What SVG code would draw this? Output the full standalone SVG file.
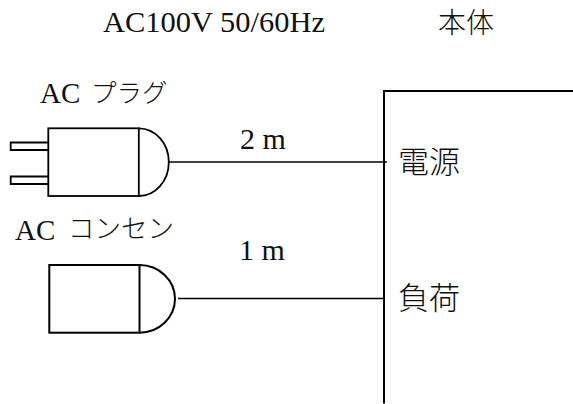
<svg xmlns="http://www.w3.org/2000/svg" width="573" height="404" viewBox="0 0 573 404">
<style>
.s{fill:none;stroke:#000;stroke-width:1.8}
.b{fill:none;stroke:#000;stroke-width:2}
.w{fill:none;stroke:#000;stroke-width:1.4}
text{fill:#111;font-family:"Liberation Serif","Noto Sans CJK JP",serif;font-size:30px}
.j{font-family:"Noto Sans CJK JP","Liberation Serif",serif;font-weight:300}
.k{font-size:26.500px}
.h{font-size:28px}
.m{font-size:31px}
</style>
<rect width="573" height="404" fill="#fff"/>
<g id="labels">
<text x="103" y="32" textLength="222" lengthAdjust="spacingAndGlyphs">AC100V 50/60Hz</text>
<text x="438" y="33" class="j h">本体</text>
<text x="40" y="103" style="font-size:29px">AC</text>
<text x="91" y="102" class="j k" style="font-size:25.500px">プラグ</text>
<text x="15" y="240" style="font-size:29px">AC</text>
<text x="68" y="238" class="j k">コンセン</text>
<text x="240" y="149">2 m</text>
<text x="239" y="260">1 m</text>
</g>
<g id="connectors">
<path class="w" d="M169 162H387"/>
<path class="w" d="M178 298.500H385"/>
</g>
<g id="plug">
<path class="s" d="M48 142.500H10.700V150H48M48 176.500H10.700V184H48"/>
<rect class="s" x="48.300" y="128.300" width="90.500" height="67.700"/>
<path class="s" d="M138.800 128.300A30 33.850 0 0 1 138.800 196"/>
</g>
<g id="socket">
<rect class="b" x="49.300" y="265" width="90.200" height="67.700"/>
<path class="b" d="M139.500 265A35.500 33.850 0 0 1 139.500 332.700"/>
</g>
<g id="body">
<path class="b" d="M384 403.500V91H573"/>
<text x="398" y="173" class="j m">電源</text>
<text x="398" y="309" class="j m">負荷</text>
</g>
</svg>
